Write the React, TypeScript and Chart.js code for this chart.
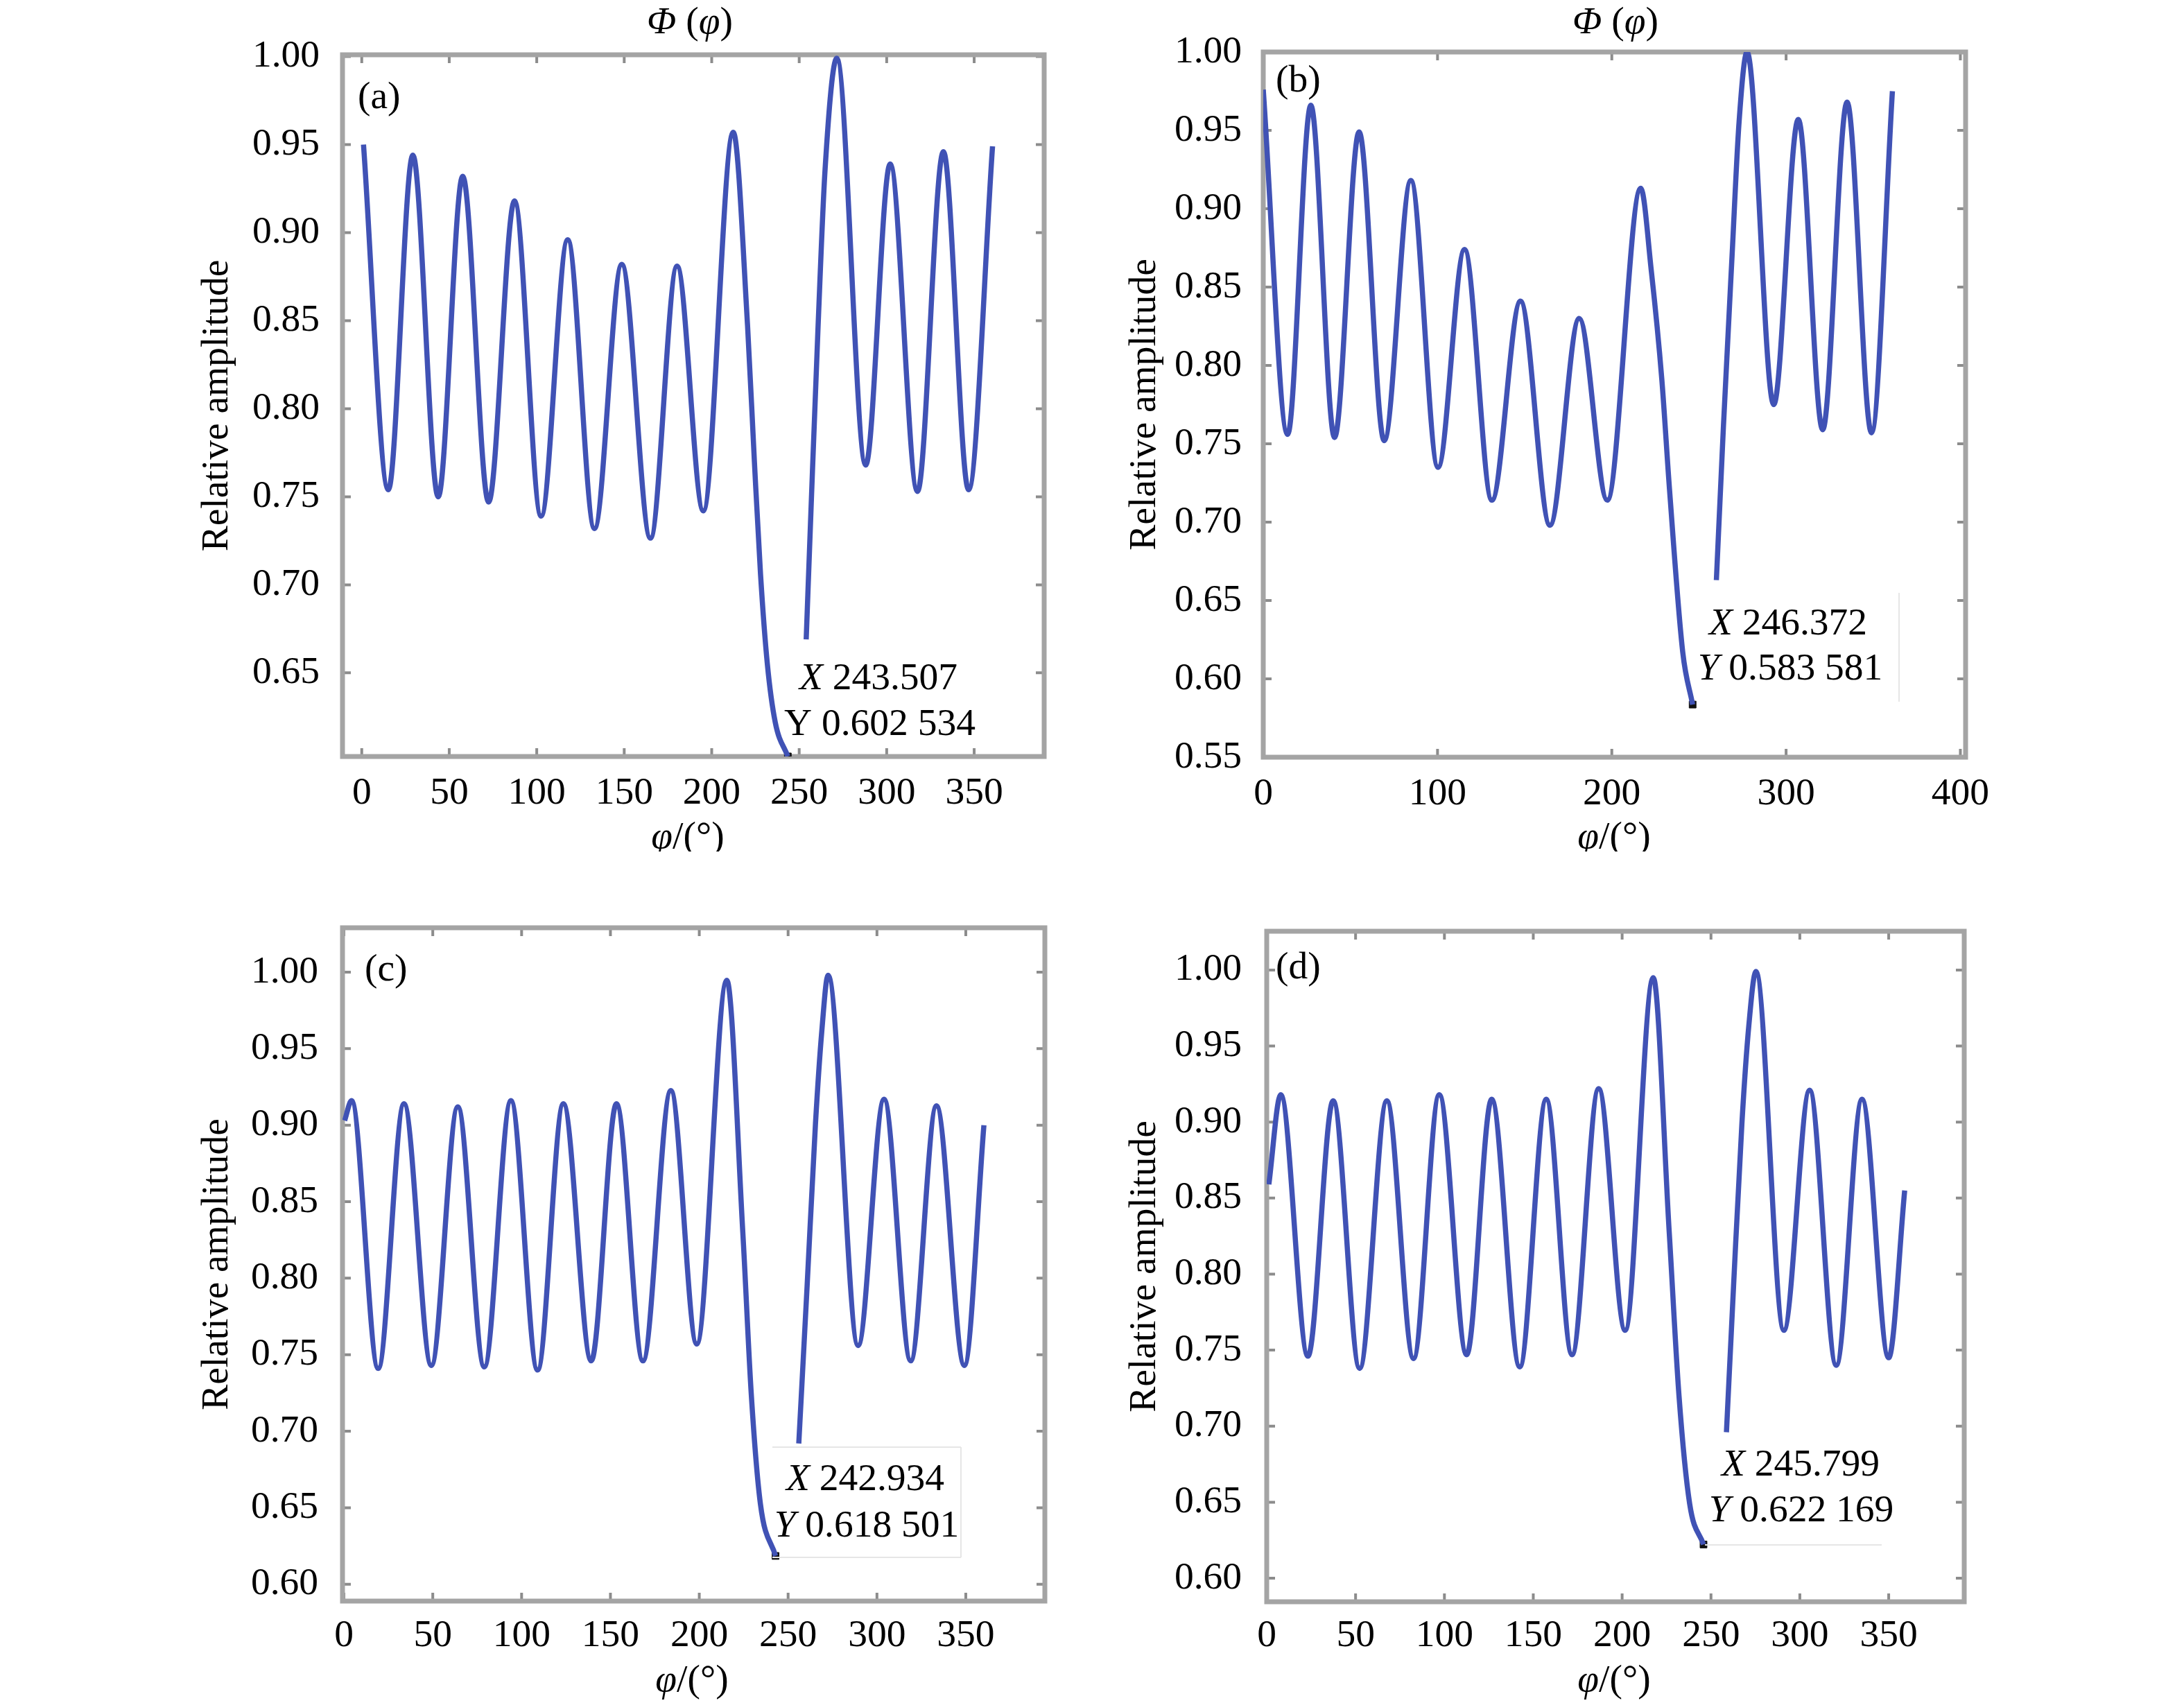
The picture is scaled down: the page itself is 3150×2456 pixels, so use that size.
import React, { useEffect, useRef } from "react";
import { Chart, registerables } from "chart.js";

Chart.register(...registerables);

// ---------- data ----------
const phiA = [1, 15.2, 29.2, 43.7, 57.7, 72.5, 87.3, 102.5, 117.7, 133, 148.6, 165, 180.2, 195.2, 212.3, 220.5, 224.4, 227.9, 231.8, 236.3, 243.507, 249, 254, 256.8, 260.8, 264.8, 271.5, 288, 302, 317.6, 332.4, 346.8, 360.5];
const ampA = [0.95, 0.754, 0.944, 0.75, 0.932, 0.747, 0.918, 0.739, 0.896, 0.732, 0.882, 0.7265, 0.881, 0.742, 0.957, 0.847, 0.77, 0.706, 0.655, 0.622, 0.602534, null, 0.669, 0.744, 0.847, 0.936, 0.999, 0.768, 0.939, 0.753, 0.946, 0.754, 0.949];
const markerA = [243.507, 0.602534];

const phiB = [0, 14, 27.3, 40.9, 55, 69.4, 84.7, 100.3, 115.5, 131.2, 147.6, 164.5, 181.3, 197.4, 216.6, 222.7, 228.7, 233.1, 240.7, 246.372, 253, 260, 264, 269, 273, 277.6, 292.9, 307, 321, 335, 349, 361];
const ampB = [0.976, 0.756, 0.966, 0.754, 0.949, 0.752, 0.918, 0.735, 0.874, 0.714, 0.841, 0.698, 0.83, 0.714, 0.913, 0.86, 0.791, 0.721, 0.617, 0.583581, null, 0.663, 0.76, 0.87, 0.955, 1.0, 0.775, 0.957, 0.759, 0.968, 0.757, 0.975];
const markerB = [246.372, 0.583581];

const phiC = [0.4, 4.3, 19.3, 33.8, 49.2, 64.1, 79, 94, 109, 123.5, 139.2, 153.4, 168.3, 184, 198.6, 215.5, 224.5, 229.3, 234.4, 242.934, 250, 256, 260.7, 265.4, 269, 272.5, 289.4, 304, 319, 333.5, 349.2, 360.2];
const ampC = [0.903, 0.916, 0.741, 0.914, 0.743, 0.912, 0.742, 0.916, 0.74, 0.914, 0.746, 0.914, 0.746, 0.9226, 0.757, 0.9947, 0.83, 0.7236, 0.6526, 0.618501, null, 0.692, 0.795, 0.901, 0.962, 0.998, 0.756, 0.917, 0.746, 0.9126, 0.743, 0.9];
const markerC = [242.934, 0.618501];

const phiD = [1.2, 7.9, 23.2, 37.4, 52.3, 67.6, 82.6, 97.1, 112.5, 126.6, 142.4, 157.3, 171.8, 186.8, 201.7, 217.5, 226.5, 232, 238, 245.799, 252, 258.7, 262.7, 267.4, 271.3, 275.3, 291, 305.5, 320.5, 335, 350, 359];
const ampD = [0.859, 0.918, 0.746, 0.914, 0.738, 0.914, 0.7445, 0.918, 0.747, 0.915, 0.739, 0.915, 0.747, 0.922, 0.763, 0.995, 0.8276, 0.72, 0.649, 0.622169, null, 0.696, 0.792, 0.899, 0.9635, 0.999, 0.763, 0.921, 0.74, 0.915, 0.745, 0.855];
const markerD = [245.799, 0.622169];

const xTicks350 = [0, 50, 100, 150, 200, 250, 300, 350];
const xTicks400 = [0, 100, 200, 300, 400];
const yTicksA = [0.65, 0.7, 0.75, 0.8, 0.85, 0.9, 0.95, 1.0];
const yTicksB = [0.55, 0.6, 0.65, 0.7, 0.75, 0.8, 0.85, 0.9, 0.95, 1.0];
const yTicksCD = [0.6, 0.65, 0.7, 0.75, 0.8, 0.85, 0.9, 0.95, 1.0];

const tipTextA = [[["X", true], [" 243.507", false]], [["Y", false], [" 0.602 534", false]]];
const tipTextB = [[["X", true], [" 246.372", false]], [["Y", true], [" 0.583 581", false]]];
const tipTextC = [[["X", true], [" 242.934", false]], [["Y", true], [" 0.618 501", false]]];
const tipTextD = [[["X", true], [" 245.799", false]], [["Y", true], [" 0.622 169", false]]];

const TITLE_TEXT = [["Φ", true], [" (", false], ["φ", true], [")", false]];
const XLABEL_TEXT = [["φ", true], ["/(°)", false]];
const YLABEL_TEXT = "Relative amplitude";

// ---------- styles / layout ----------
const FONT = "'Liberation Serif', 'Times New Roman', Times, serif";
const FS = 55.5;
const LINE_COLOR = "rgb(64, 82, 181)";

const panels = [
  {
    phi: phiA, amp: ampA, marker: markerA, xTicks: xTicks350, yTicks: yTicksA,
    xMin: -11, xMax: 390, yMin: 0.6025, yMax: 1.001, label: "(a)", title: true, tip: tipTextA,
    geo: { left: 0, top: 0, w: 1575, h: 1228, yW: 494, padR: 69, padT: 79, xH: 137, yTitlePad: 279.7, xTickPad: 11.7, yTickPad: 25,
      titleXY: [995, 33], xlabXY: [992, 1208], labXY: [516, 141], tipX: [1267, 979], tipY: [1269, 1045], box: null },
  },
  {
    phi: phiB, amp: ampB, marker: markerB, xTicks: xTicks400, yTicks: yTicksB,
    xMin: 0, xMax: 403, yMin: 0.55, yMax: 1.0, label: "(b)", title: true, tip: tipTextB,
    geo: { left: 1575, top: 0, w: 1575, h: 1228, yW: 247, padR: 315, padT: 75, xH: 136, yTitlePad: 42.7, xTickPad: 11.7, yTickPad: 23,
      titleXY: [755, 33], xlabXY: [753, 1208], labXY: [265, 117], tipX: [1004, 900], tipY: [1007, 965],
      box: { x0: 860, y0: 855, x1: 1164, y1: 1012, edges: "r" } },
  },
  {
    phi: phiC, amp: ampC, marker: markerC, xTicks: xTicks350, yTicks: yTicksCD,
    xMin: -0.8, xMax: 394.5, yMin: 0.589, yMax: 1.029, label: "(c)", title: false, tip: tipTextC,
    geo: { left: 0, top: 1228, w: 1575, h: 1228, yW: 494, padR: 68, padT: 110, xH: 147, yTitlePad: 279.7, xTickPad: 8.7, yTickPad: 27,
      titleXY: null, xlabXY: [998, 1196], labXY: [526, 171], tipX: [1248, 906], tipY: [1250, 973],
      box: { x0: 1114, y0: 859, x1: 1386, y1: 1018, edges: "trb" } },
  },
  {
    phi: phiD, amp: ampD, marker: markerD, xTicks: xTicks350, yTicks: yTicksCD,
    xMin: 0, xMax: 392.5, yMin: 0.5845, yMax: 1.0255, label: "(d)", title: false, tip: tipTextD,
    geo: { left: 1575, top: 1228, w: 1575, h: 1228, yW: 252, padR: 317, padT: 115, xH: 146, yTitlePad: 42.7, xTickPad: 7.7, yTickPad: 28,
      titleXY: null, xlabXY: [753, 1196], labXY: [265, 168], tipX: [1022, 885], tipY: [1023, 951],
      box: { x0: 884, y0: 850, x1: 1139, y1: 1000, edges: "b" } },
  },
];

function drawRich(ctx: CanvasRenderingContext2D, parts: any[], cx: number, cy: number, align = "center") {
  const fonts = parts.map((p: any) => (p[1] ? "italic " : "") + FS + "px " + FONT);
  let w = 0;
  parts.forEach((p: any, i: number) => {
    ctx.font = fonts[i];
    w += ctx.measureText(p[0]).width;
  });
  let x = align === "center" ? cx - w / 2 : cx;
  ctx.textBaseline = "middle";
  ctx.textAlign = "left";
  ctx.fillStyle = "#000";
  parts.forEach((p: any, i: number) => {
    ctx.font = fonts[i];
    ctx.fillText(p[0], x, cy);
    x += ctx.measureText(p[0]).width;
  });
}

function makeChart(canvas: HTMLCanvasElement, p: any) {
  const g = p.geo;
  const lineData = p.phi.map((x: number, i: number) => ({ x, y: p.amp[i] }));

  const framePlugin = {
    id: "frameTicks",
    beforeDatasetsDraw(chart: any) {
      const { ctx, chartArea } = chart;
      const { left, right, top, bottom } = chartArea;
      const xs = chart.scales.x;
      const ys = chart.scales.y;
      ctx.save();
      ctx.strokeStyle = "#8c8c8c";
      ctx.lineWidth = 4;
      const TL = 12;
      xs.ticks.forEach((t: any) => {
        const px = xs.getPixelForValue(t.value);
        ctx.beginPath();
        ctx.moveTo(px, bottom);
        ctx.lineTo(px, bottom - TL);
        ctx.moveTo(px, top);
        ctx.lineTo(px, top + TL);
        ctx.stroke();
      });
      ys.ticks.forEach((t: any) => {
        const py = ys.getPixelForValue(t.value);
        ctx.beginPath();
        ctx.moveTo(left, py);
        ctx.lineTo(left + TL, py);
        ctx.moveTo(right, py);
        ctx.lineTo(right - TL, py);
        ctx.stroke();
      });
      ctx.strokeStyle = "#a4a4a4";
      ctx.lineWidth = 7;
      ctx.strokeRect(left, top, right - left, bottom - top);
      ctx.restore();
    },
    afterDraw(chart: any) {
      const ctx = chart.ctx;
      ctx.save();
      if (g.box) {
        const b = g.box;
        ctx.strokeStyle = "#e6e6e6";
        ctx.lineWidth = 2;
        ctx.beginPath();
        if (b.edges.includes("t")) { ctx.moveTo(b.x0, b.y0); ctx.lineTo(b.x1, b.y0); }
        if (b.edges.includes("r")) { ctx.moveTo(b.x1, b.y0); ctx.lineTo(b.x1, b.y1); }
        if (b.edges.includes("b")) { ctx.moveTo(b.x0, b.y1); ctx.lineTo(b.x1, b.y1); }
        ctx.stroke();
      }
      drawRich(ctx, p.tip[0], g.tipX[0], g.tipX[1]);
      drawRich(ctx, p.tip[1], g.tipY[0], g.tipY[1]);
      if (g.titleXY) drawRich(ctx, TITLE_TEXT, g.titleXY[0], g.titleXY[1]);
      drawRich(ctx, XLABEL_TEXT, g.xlabXY[0], g.xlabXY[1]);
      drawRich(ctx, [[p.label, false]], g.labXY[0], g.labXY[1], "left");
      ctx.restore();
    },
  };

  return new Chart(canvas, {
    type: "line",
    data: {
      datasets: [
        {
          data: lineData,
          borderColor: LINE_COLOR,
          backgroundColor: LINE_COLOR,
          borderWidth: 7.5,
          pointRadius: 0,
          cubicInterpolationMode: "monotone",
          spanGaps: false,
          fill: false,
        },
        {
          data: [{ x: p.marker[0], y: p.marker[1] }],
          showLine: false,
          pointStyle: "rect",
          pointRadius: 7,
          backgroundColor: "#111",
          borderColor: "#111",
          borderWidth: 1,
        },
      ],
    },
    options: {
      animation: false,
      responsive: false,
      maintainAspectRatio: false,
      devicePixelRatio: 1,
      layout: { padding: { left: 0, right: g.padR, top: g.padT, bottom: 0 } },
      plugins: { legend: { display: false }, tooltip: { enabled: false }, title: { display: false } },
      scales: {
        x: {
          type: "linear",
          min: p.xMin,
          max: p.xMax,
          afterBuildTicks: (ax: any) => { ax.ticks = p.xTicks.map((v: number) => ({ value: v })); },
          afterFit: (ax: any) => { ax.height = g.xH; },
          grid: { display: false },
          border: { display: false },
          ticks: {
            padding: g.xTickPad,
            color: "#000",
            font: { family: FONT, size: FS },
            maxRotation: 0,
            autoSkip: false,
            callback: (v: any) => String(v),
          },
        },
        y: {
          type: "linear",
          min: p.yMin,
          max: p.yMax,
          afterBuildTicks: (ax: any) => { ax.ticks = p.yTicks.map((v: number) => ({ value: v })); },
          afterFit: (ax: any) => { ax.width = g.yW; },
          grid: { display: false },
          border: { display: false },
          title: {
            display: true,
            text: YLABEL_TEXT,
            color: "#000",
            font: { family: FONT, size: FS },
            padding: { top: g.yTitlePad, bottom: 0 },
          },
          ticks: {
            padding: g.yTickPad,
            color: "#000",
            font: { family: FONT, size: FS },
            autoSkip: false,
            callback: (v: any) => Number(v).toFixed(2),
          },
        },
      },
    },
    plugins: [framePlugin],
  } as any);
}

function Panel({ p }: { p: any }) {
  const ref = useRef<HTMLCanvasElement | null>(null);
  useEffect(() => {
    if (!ref.current) return;
    const chart = makeChart(ref.current, p);
    return () => chart.destroy();
  }, [p]);
  const g = p.geo;
  return (
    <canvas
      ref={ref}
      width={g.w}
      height={g.h}
      style={{ position: "absolute", left: g.left, top: g.top, width: g.w, height: g.h }}
    />
  );
}

export default function App() {
  return (
    <div style={{ position: "absolute", left: 0, top: 0, width: 3150, height: 2456, background: "#fff", overflow: "hidden" }}>
      {panels.map((p, i) => (
        <Panel key={i} p={p} />
      ))}
    </div>
  );
}
